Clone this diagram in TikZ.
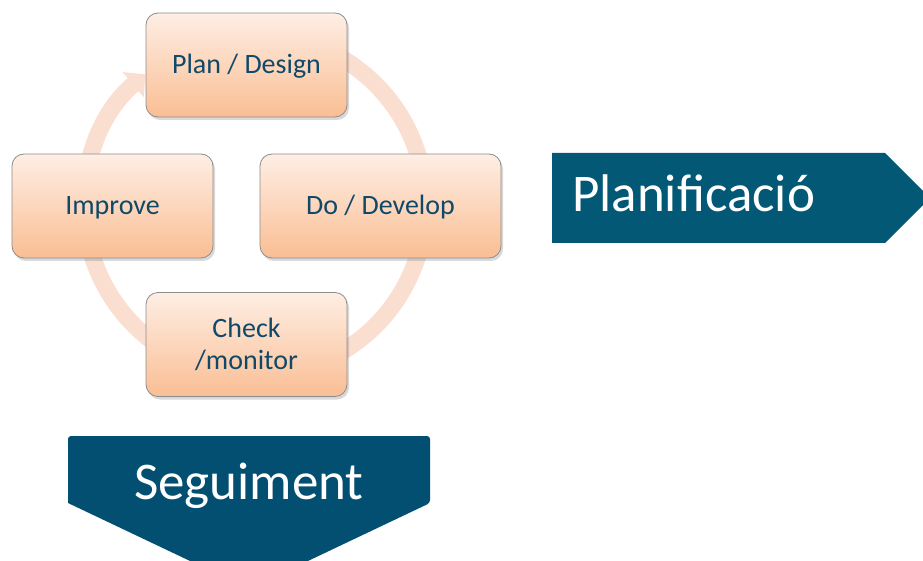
\documentclass[tikz,border=0pt]{standalone}
\usepackage{fontspec}
\setmainfont{Carlito}
\usetikzlibrary{arrows.meta,shadows,calc}
\definecolor{ringc}{RGB}{250,222,208}
\definecolor{boxtop}{RGB}{254,238,228}
\definecolor{boxbot}{RGB}{250,190,148}
\definecolor{boxline}{RGB}{140,140,140}
\definecolor{txtc}{RGB}{16,73,104}
\definecolor{banA}{RGB}{2,88,117}
\definecolor{banB}{RGB}{2,79,113}
\tikzset{
  cyclebox/.style={rounded corners=12pt, draw=boxline, line width=0.8pt,
    top color=boxtop, bottom color=boxbot, minimum width=201pt, minimum height=104pt,
    font=\fontsize{28}{32}\selectfont, text=txtc, align=center,
    text height=17.5pt, text depth=0pt,
    drop shadow={shadow xshift=2pt, shadow yshift=-3pt, opacity=0.3}},
  ringstyle/.style={draw=ringc, line width=17pt},
  bannertxt/.style={font=\fontsize{53}{60}\selectfont, text=white, inner sep=0pt}
}
\begin{document}
\begin{tikzpicture}[x=1pt,y=-1pt]
\useasboundingbox (0,0) rectangle (923,561);
\begin{scope}
\clip (0,0) rectangle (923,561);
% cycle ring
\coordinate (ctr) at (255,205);
\draw[ringstyle, -{Triangle[width=32pt,length=16pt]}, ringc]
  ($(ctr)+(-110:170.5)$) arc[start angle=-110, end angle=230, radius=170.5];
% boxes
\node[cyclebox] (plan) at (246.5,65) {Plan / Design};
\node[cyclebox, minimum width=241pt] (do) at (380.5,206) {Do / Develop};
\node[cyclebox, text height=49.5pt, text depth=0pt] (check) at (246.5,344.5) {Check\\/monitor};
\node[cyclebox] (improve) at (112.5,206) {Improve};
% banners
\fill[banA] (552,153) -- (885,153) -- (930,198) -- (885,243) -- (552,243) -- cycle;
\node[bannertxt, anchor=base west] (planif) at (572,212) {Planificació};
\fill[banB, rounded corners=3pt] (68,503) -- (68,436) -- (430,436) -- (430,503) [sharp corners] -- (249,589) -- cycle;
\node[bannertxt, anchor=base] (segui) at (249,499) {Seguiment};
\end{scope}
\end{tikzpicture}
\end{document}
